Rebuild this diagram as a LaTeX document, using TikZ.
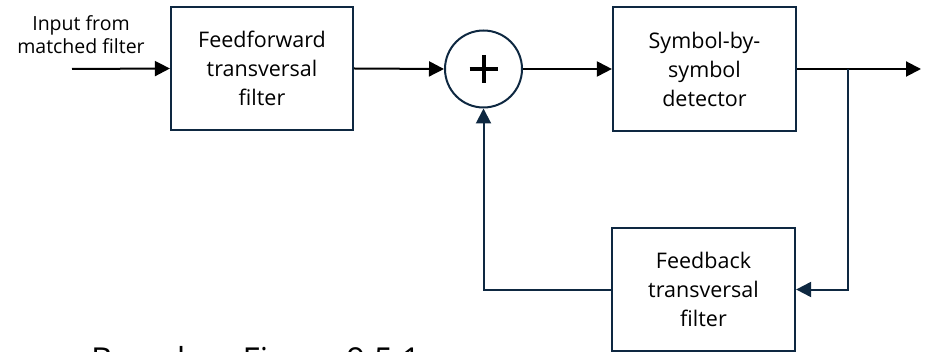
\documentclass[tikz,border=0pt]{standalone}
\usepackage{fontspec}
\setmainfont{Open Sans}
\usetikzlibrary{arrows.meta,calc}
\definecolor{navy}{HTML}{0E2841}
\tikzset{
  blk/.style={draw=navy, line width=2.2pt, rectangle, minimum width=182pt, minimum height=123pt,
    align=center, inner sep=0pt, font=\fontsize{21.5}{29}\selectfont},
  sumnode/.style={draw=navy, line width=2pt, circle, minimum size=77pt, inner sep=0pt},
  mainarr/.style={line width=2pt, -{Triangle[length=15pt,width=15pt]}},
  fbarr/.style={draw=navy, line width=2pt, -{Triangle[length=15pt,width=15pt]}, color=navy},
}
\begin{document}
\begin{tikzpicture}[x=1pt,y=-1pt]
\useasboundingbox (0,0) rectangle (933,352);
\node[blk] (ff) at (262,68.5) {Feedforward\\transversal\\filter};
\node[sumnode] (sum) at (483.5,69) {};
\draw[line width=4pt] ($(sum.center)+(-14,0)$) -- ($(sum.center)+(14,0)$);
\draw[line width=4pt] ($(sum.center)+(0,-14)$) -- ($(sum.center)+(0,14)$);
\node[blk, minimum width=183pt, minimum height=124pt] (det) at (704.5,69) {Symbol-by-\\symbol\\detector};
\node[blk, minimum width=183pt] (fb) at (703.5,289.5) {Feedback\\transversal\\filter};
\node[align=center, inner sep=0pt, font=\fontsize{19.5}{23}\selectfont] (in) at (81,35) {Input from\\matched filter};
\coordinate (start) at (72,69);
\coordinate (out) at (921,69);
\coordinate (br) at (848,69);
\draw[mainarr] (start) -- (ff.west);
\draw[mainarr] (ff.east) -- (sum.west);
\draw[mainarr] (sum.east) -- (det.west);
\draw[mainarr] (det.east) -- (out);
\draw[fbarr] (br) |- (fb.east);
\draw[fbarr] (fb.west) -| (sum.south);
\node[anchor=north west, inner sep=0pt, font=\fontsize{33}{38}\selectfont] (cap) at (91,346) {Based on Figure 9.5.1};
\end{tikzpicture}
\end{document}
